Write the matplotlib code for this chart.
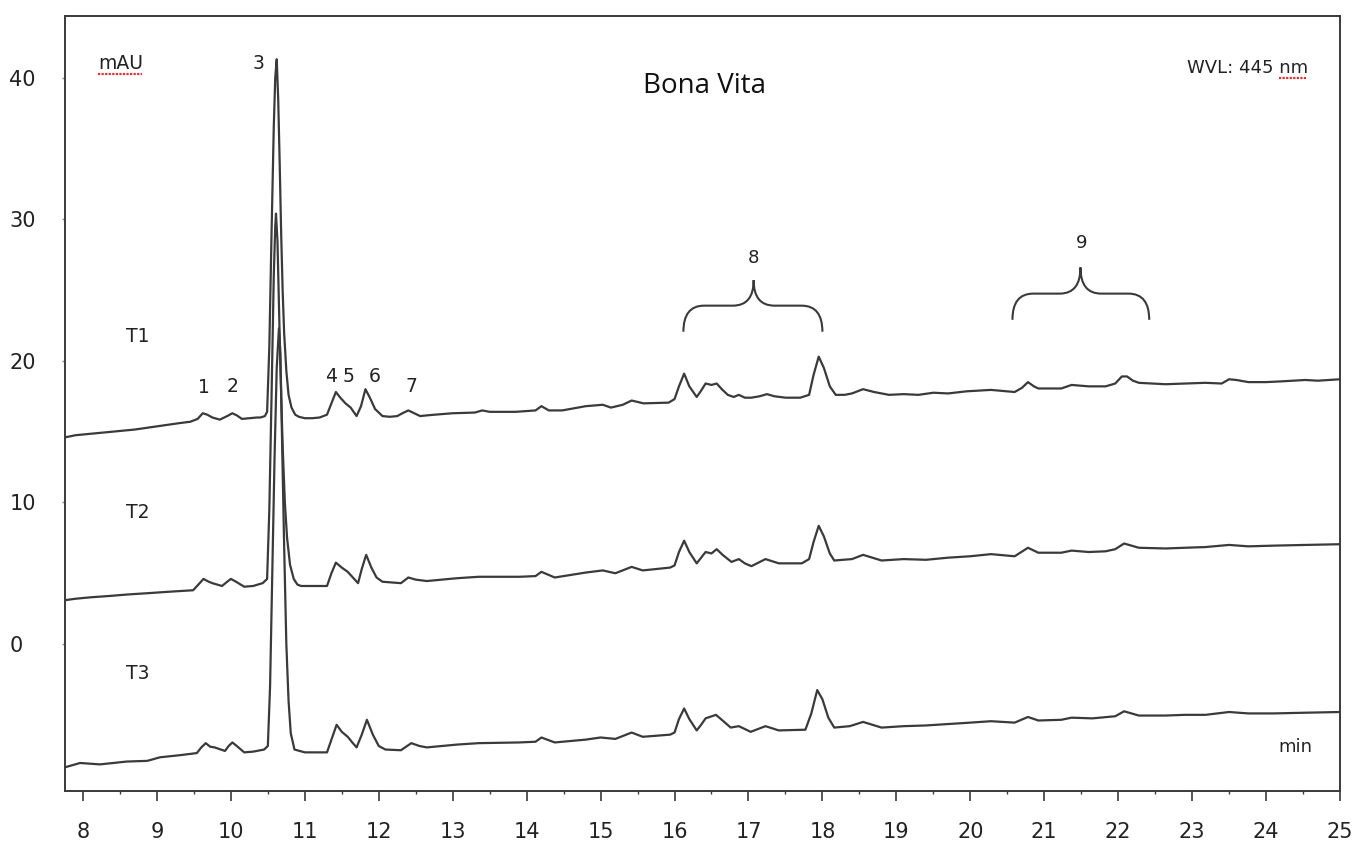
import numpy as np
import matplotlib
matplotlib.use("Agg")
import matplotlib.pyplot as plt
from matplotlib.path import Path
from matplotlib.patches import PathPatch
from matplotlib.ticker import MultipleLocator

# --- retention time (min) / absorbance (mAU) ---
t1_time = [7.76, 7.9, 8.1, 8.3, 8.5, 8.7, 8.9, 9.1, 9.3, 9.45, 9.55, 9.62, 9.68, 9.75, 9.85,
           9.95, 10.02, 10.08, 10.15, 10.25, 10.35, 10.40, 10.46, 10.49, 10.52, 10.55, 10.58,
           10.60, 10.62, 10.64, 10.66, 10.68, 10.70, 10.72, 10.75, 10.78, 10.82, 10.87, 10.92,
           11.0, 11.1, 11.2, 11.3, 11.36, 11.42, 11.48, 11.55, 11.62, 11.7, 11.76, 11.82, 11.88,
           11.95, 12.05, 12.15, 12.25, 12.32, 12.4, 12.48, 12.56, 12.65, 12.76, 13.0, 13.3, 13.4,
           13.5, 13.85, 14.12, 14.2, 14.3, 14.48, 14.8, 15.03, 15.14, 15.3, 15.42, 15.58, 15.92,
           16.0, 16.06, 16.13, 16.2, 16.3, 16.36, 16.42, 16.5, 16.57, 16.64, 16.72, 16.8, 16.87,
           16.95, 17.04, 17.15, 17.25, 17.35, 17.5, 17.7, 17.82, 17.88, 17.95, 18.02, 18.1, 18.18,
           18.3, 18.4, 18.55, 18.7, 18.9, 19.1, 19.3, 19.5, 19.7, 19.95, 20.28, 20.6, 20.7, 20.78,
           20.86, 20.92, 21.23, 21.37, 21.6, 21.83, 21.96, 22.05, 22.12, 22.2, 22.28, 22.64, 22.9,
           23.18, 23.4, 23.5, 23.6, 23.76, 24.0, 24.2, 24.53, 24.7, 25.0]
t1_mau = [14.6, 14.75, 14.85, 14.95, 15.05, 15.15, 15.3, 15.45, 15.6, 15.7, 15.9, 16.3, 16.2, 16.0, 15.85,
          16.1, 16.3, 16.15, 15.9, 15.95, 16.0, 16.0, 16.1, 16.4, 21.0, 29.0, 36.5,
          40.0, 41.3, 38.5, 34.0, 29.0, 25.0, 22.0, 19.3, 17.6, 16.7, 16.2, 16.05,
          15.95, 15.95, 16.0, 16.2, 17.0, 17.8, 17.4, 17.0, 16.7, 16.1, 16.8, 18.0, 17.4,
          16.6, 16.1, 16.05, 16.1, 16.3, 16.5, 16.3, 16.1, 16.15, 16.2, 16.3, 16.35, 16.5,
          16.4, 16.4, 16.5, 16.8, 16.5, 16.5, 16.8, 16.9, 16.7, 16.9, 17.2, 17.0, 17.05,
          17.3, 18.2, 19.1, 18.2, 17.45, 17.9, 18.4, 18.3, 18.4, 18.0, 17.6, 17.45, 17.6,
          17.4, 17.4, 17.5, 17.65, 17.5, 17.4, 17.4, 17.6, 19.0, 20.3, 19.5, 18.2, 17.6,
          17.6, 17.7, 18.0, 17.8, 17.6, 17.65, 17.6, 17.75, 17.7, 17.85, 17.95, 17.8, 18.1, 18.5,
          18.2, 18.05, 18.05, 18.3, 18.2, 18.2, 18.4, 18.9, 18.9, 18.6, 18.45, 18.35, 18.4,
          18.45, 18.4, 18.7, 18.65, 18.5, 18.5, 18.55, 18.65, 18.6, 18.7]

t2_time = [7.76, 7.9, 8.1, 8.37, 8.6, 8.9, 9.18, 9.49, 9.56, 9.63, 9.7, 9.75, 9.88, 9.95, 10.0,
           10.07, 10.18, 10.3, 10.43, 10.49, 10.52, 10.55, 10.58, 10.60, 10.61, 10.63, 10.65,
           10.67, 10.70, 10.73, 10.76, 10.80, 10.85, 10.9, 10.95, 11.3, 11.36, 11.42, 11.5, 11.58,
           11.65, 11.72, 11.77, 11.83, 11.9, 11.97, 12.05, 12.3, 12.4, 12.5, 12.65, 13.06, 13.35,
           13.9, 14.12, 14.2, 14.38, 14.8, 15.03, 15.2, 15.42, 15.57, 15.94, 16.0, 16.06, 16.13,
           16.2, 16.3, 16.36, 16.42, 16.5, 16.57, 16.65, 16.77, 16.87, 16.95, 17.04, 17.23, 17.41,
           17.72, 17.82, 17.88, 17.95, 18.02, 18.1, 18.16, 18.4, 18.55, 18.8, 19.1, 19.4, 19.7,
           20.0, 20.28, 20.6, 20.78, 20.92, 21.23, 21.37, 21.6, 21.83, 21.96, 22.08, 22.28, 22.64,
           22.9, 23.18, 23.5, 23.76, 24.1, 24.53, 25.0]
t2_mau = [3.1, 3.2, 3.3, 3.4, 3.5, 3.6, 3.7, 3.8, 4.2, 4.6, 4.4, 4.3, 4.1, 4.4, 4.6,
          4.4, 4.05, 4.1, 4.3, 4.6, 9.5, 17.5, 26.0, 29.5, 30.4, 28.5, 24.0,
          19.5, 14.0, 10.0, 7.5, 5.6, 4.6, 4.2, 4.1, 4.1, 5.0, 5.75, 5.4, 5.1,
          4.7, 4.3, 5.3, 6.3, 5.4, 4.7, 4.4, 4.3, 4.7, 4.55, 4.45, 4.65, 4.75,
          4.75, 4.8, 5.1, 4.7, 5.05, 5.2, 5.0, 5.45, 5.2, 5.4, 5.55, 6.5, 7.3,
          6.5, 5.7, 6.1, 6.5, 6.4, 6.7, 6.3, 5.8, 6.0, 5.7, 5.5, 6.0, 5.7,
          5.7, 6.0, 7.2, 8.35, 7.6, 6.4, 5.9, 6.0, 6.3, 5.9, 6.0, 5.95, 6.1,
          6.2, 6.35, 6.2, 6.8, 6.45, 6.45, 6.6, 6.5, 6.55, 6.7, 7.1, 6.8, 6.75,
          6.8, 6.85, 7.0, 6.9, 6.95, 7.0, 7.05]

t3_time = [7.76, 7.96, 8.23, 8.59, 8.87, 9.04, 9.31, 9.54, 9.6, 9.66, 9.72, 9.78, 9.92, 9.97,
           10.02, 10.08, 10.18, 10.3, 10.45, 10.50, 10.53, 10.56, 10.59, 10.62, 10.65, 10.67,
           10.69, 10.72, 10.75, 10.78, 10.81, 10.86, 11.0, 11.3, 11.37, 11.43, 11.5, 11.58, 11.65,
           11.7, 11.77, 11.84, 11.92, 12.0, 12.09, 12.3, 12.44, 12.55, 12.65, 13.06, 13.35, 13.9,
           14.12, 14.2, 14.38, 14.8, 15.0, 15.2, 15.42, 15.57, 15.94, 16.0, 16.06, 16.13, 16.2,
           16.3, 16.36, 16.42, 16.56, 16.65, 16.76, 16.87, 17.03, 17.23, 17.41, 17.77, 17.85,
           17.93, 18.0, 18.08, 18.16, 18.37, 18.55, 18.8, 19.1, 19.4, 19.7, 20.0, 20.28, 20.6,
           20.78, 20.92, 21.23, 21.37, 21.65, 21.96, 22.08, 22.28, 22.64, 22.9, 23.18, 23.5,
           23.76, 24.1, 24.53, 25.0]
t3_mau = [-8.7, -8.4, -8.5, -8.3, -8.25, -8.0, -7.85, -7.7, -7.3, -7.0, -7.25, -7.3, -7.55, -7.2,
          -6.95, -7.2, -7.65, -7.6, -7.45, -7.2, -3.0, 5.0, 13.0, 19.5, 22.3, 20.5,
          15.0, 7.0, 0.0, -4.0, -6.3, -7.45, -7.65, -7.65, -6.6, -5.7, -6.2, -6.55, -7.0,
          -7.3, -6.4, -5.35, -6.4, -7.2, -7.45, -7.5, -7.0, -7.2, -7.3, -7.1, -7.0, -6.95,
          -6.9, -6.6, -6.95, -6.75, -6.6, -6.7, -6.25, -6.55, -6.4, -6.25, -5.3, -4.55, -5.3,
          -6.1, -5.7, -5.25, -5.0, -5.4, -5.9, -5.8, -6.2, -5.8, -6.1, -6.05, -4.9,
          -3.25, -3.9, -5.2, -5.9, -5.8, -5.5, -5.9, -5.8, -5.75, -5.65, -5.55, -5.45, -5.55,
          -5.15, -5.4, -5.35, -5.2, -5.25, -5.1, -4.75, -5.05, -5.05, -5.0, -5.0, -4.8,
          -4.9, -4.9, -4.85, -4.8]

# peak numbers and where they are written
peak_labels = ["1", "2", "3", "4", "5", "6", "7"]
peak_label_x = [9.64, 10.02, 10.38, 11.36, 11.59, 11.95, 12.44]
peak_label_y = [18.1, 18.2, 41.0, 18.9, 18.9, 18.9, 18.2]

trace_names = ["T1", "T2", "T3"]
trace_name_y = [21.7, 9.3, -2.05]

LINE = "#3a3a3a"

fig = plt.figure(figsize=(13.56, 8.49), dpi=100)
ax = fig.add_axes([0.0479, 0.0683, 0.9403, 0.9129])

for tt, yy in [(t1_time, t1_mau), (t2_time, t2_mau), (t3_time, t3_mau)]:
    ax.plot(tt, yy, color=LINE, lw=1.6, solid_joinstyle="round")

ax.set_xlim(7.756, 25.0)
ax.set_ylim(-10.38, 44.36)

ax.xaxis.set_major_locator(MultipleLocator(1))
ax.xaxis.set_minor_locator(MultipleLocator(0.5))
ax.set_yticks([0, 10, 20, 30, 40])
ax.tick_params(axis="x", which="major", direction="out", length=7, width=1.2,
               colors=LINE, labelcolor="#222222", labelsize=15, pad=15)
ax.tick_params(axis="x", which="minor", direction="out", length=2.5, width=1.0, colors=LINE)
ax.tick_params(axis="y", which="major", direction="out", length=2, width=1.0,
               colors="#888888", labelcolor="#222222", labelsize=15, pad=38)
for lab in ax.get_yticklabels():
    lab.set_horizontalalignment("left")

for s in ax.spines.values():
    s.set_color(LINE)
    s.set_linewidth(1.4)


def brace(x0, x1, xc, yb, yh, yc, r):
    verts = [(x0, yb), (x0, yh), (x0 + r, yh),
             (xc - r, yh), (xc, yh), (xc, yc),
             (xc, yh), (xc + r, yh),
             (x1 - r, yh), (x1, yh), (x1, yb)]
    codes = [Path.MOVETO, Path.CURVE3, Path.CURVE3,
             Path.LINETO, Path.CURVE3, Path.CURVE3,
             Path.CURVE3, Path.CURVE3,
             Path.LINETO, Path.CURVE3, Path.CURVE3]
    ax.add_patch(PathPatch(Path(verts, codes), fill=False, edgecolor=LINE, lw=1.5))


brace(16.12, 18.0, 17.07, 22.06, 23.9, 25.7, 0.28)
brace(20.57, 22.42, 21.49, 22.9, 24.75, 26.6, 0.28)
ax.text(17.07, 27.3, "8", ha="center", va="center", fontsize=13, color="#222222")
ax.text(21.5, 28.3, "9", ha="center", va="center", fontsize=13, color="#222222")

for lab, x, y in zip(peak_labels, peak_label_x, peak_label_y):
    ax.text(x, y, lab, ha="center", va="center", fontsize=13.5, color="#222222")

for name, y in zip(trace_names, trace_name_y):
    ax.text(8.74, y, name, ha="center", va="center", fontsize=13.5, color="#222222")

ax.text(8.2, 41.0, "mAU", ha="left", va="center", fontsize=13.5, color="#222222")
ax.plot([8.2, 8.8], [40.25, 40.25], color="#e03030", lw=1.6, ls=(0, (1, 0.6)))
ax.text(22.93, 40.7, "WVL: 445 nm", ha="left", va="center", fontsize=13, color="#222222")
ax.plot([24.17, 24.54], [40.0, 40.0], color="#e03030", lw=1.6, ls=(0, (1, 0.6)))
ax.text(16.4, 39.4, "Bona Vita", ha="center", va="center", fontsize=20,
        family=["Open Sans", "DejaVu Sans"], color="#111111")
ax.text(24.4, -7.3, "min", ha="center", va="center", fontsize=13, color="#222222")

fig.savefig("out.png", dpi=100)
